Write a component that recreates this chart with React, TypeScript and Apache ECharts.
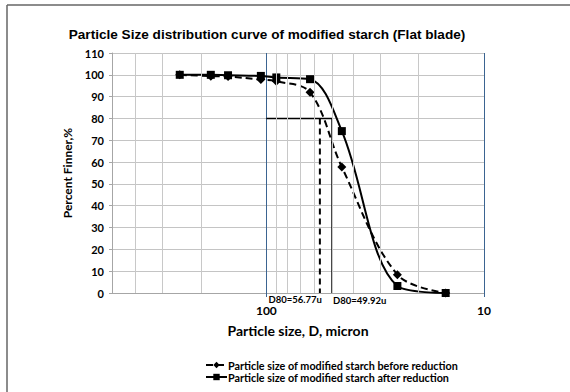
import React, { useEffect, useRef } from "react";
import * as echarts from "echarts";

const particleSizes = [250, 180, 150, 106, 90, 63, 45, 25, 15];
const beforeReduction = [100, 99.4, 99.2, 97.8, 97.0, 92.0, 57.7, 8.4, 0];
const afterReduction = [100, 100, 99.8, 99.5, 98.8, 98.0, 74.2, 3.2, 0];
const minorGridSizes = [20, 30, 40, 50, 60, 70, 80, 90, 200, 300, 400];
const xTickLabels = [10, 100];
const d80Before = 56.77;
const d80After = 49.92;
const d80Level = 80;
const xMin = 10;
const xMax = 512;

const seriesBeforeName = "Particle size of modified starch before reduction";
const seriesAfterName = "Particle size of modified starch after reduction";

const CAL = "Lato, 'Open Sans', sans-serif";

export default function App() {
  const ref = useRef<HTMLDivElement>(null);
  useEffect(() => {
    document.body.style.margin = "0";
    const chart = echarts.init(ref.current!, undefined, { renderer: "svg" });
    const beforeData = particleSizes.map((s, i) => [s, beforeReduction[i]]);
    const afterData = particleSizes.map((s, i) => [s, afterReduction[i]]);
    const option: any = {
      animation: false,
      backgroundColor: "#ffffff",
      title: {
        text: "Particle Size distribution curve of modified starch (Flat blade)",
        left: 262,
        top: 22,
        textAlign: "center",
        textStyle: {
          fontFamily: "'Liberation Sans', Arial, sans-serif",
          fontWeight: "bold",
          fontSize: 13.6,
          color: "#000",
        },
      },
      grid: { left: 112, right: 86, top: 53, bottom: 99, containLabel: false },
      legend: {
        orient: "vertical",
        left: 200,
        top: 354,
        itemGap: 0,
        itemWidth: 21,
        itemHeight: 8,
        data: [seriesBeforeName, seriesAfterName],
        textStyle: {
          fontFamily: CAL,
          fontWeight: "bold",
          fontSize: 10.8,
          lineHeight: 12,
          color: "#000",
          padding: [0, 0, 0, -4],
        },
      },
      xAxis: {
        type: "log",
        logBase: 10,
        inverse: true,
        min: xMin,
        max: xMax,
        name: "Particle size, D, micron",
        nameLocation: "middle",
        nameGap: 30,
        nameTextStyle: { fontFamily: CAL, fontWeight: "bold", fontSize: 14, color: "#000" },
        axisLine: { show: true, lineStyle: { color: "#a6a6a6", width: 1 } },
        axisTick: { show: true, length: 4, lineStyle: { color: "#3b6491" } },
        axisLabel: {
          margin: 11,
          showMinLabel: true,
          showMaxLabel: false,
          fontFamily: CAL,
          fontWeight: "bold",
          fontSize: 12,
          color: "#000",
          formatter: (v: number) => {
            const r = Math.round(v);
            return xTickLabels.indexOf(r) >= 0 ? String(r) : "";
          },
        },
        splitLine: { show: true, lineStyle: { color: "#3b6491", width: 1 } },
      },
      yAxis: {
        type: "value",
        min: 0,
        max: 110,
        interval: 10,
        name: "Percent Finner,%",
        nameLocation: "middle",
        nameRotate: 90,
        nameGap: 27,
        nameTextStyle: { fontFamily: CAL, fontWeight: "bold", fontSize: 12, color: "#000" },
        axisLine: { show: true, lineStyle: { color: "#a6a6a6" } },
        axisTick: { show: true, length: 3, lineStyle: { color: "#a6a6a6" } },
        axisLabel: { margin: 8, fontFamily: CAL, fontWeight: "bold", fontSize: 11, color: "#000" },
        splitLine: { show: true, lineStyle: { color: "#c4c4c4", width: 1 } },
      },
      series: [
        {
          name: "minor",
          type: "line",
          data: [],
          silent: true,
          markLine: {
            silent: true,
            symbol: ["none", "none"],
            label: { show: false },
            lineStyle: { color: "#c8c8c8", width: 1, type: "solid" },
            data: minorGridSizes.map((v) => ({ xAxis: v })),
          },
        },
        {
          name: "d80after",
          type: "line",
          data: [
            [100, d80Level],
            [d80After, d80Level],
            [d80After, 0],
          ],
          symbol: "none",
          lineStyle: { color: "#000", width: 1.5 },
          silent: true,
        },
        {
          name: "d80before",
          type: "line",
          data: [
            [d80Before, d80Level],
            [d80Before, 0],
          ],
          symbol: "none",
          lineStyle: { color: "#000", width: 2, type: [6, 4] },
          silent: true,
        },
        {
          name: seriesBeforeName,
          type: "line",
          data: beforeData,
          smooth: 0.35,
          symbol: "diamond",
          symbolSize: 9,
          itemStyle: { color: "#000" },
          lineStyle: { color: "#000", width: 2, type: [7, 4] },
          z: 3,
        },
        {
          name: seriesAfterName,
          type: "line",
          data: afterData,
          smooth: 0.35,
          symbol: "rect",
          symbolSize: 8,
          itemStyle: { color: "#000" },
          lineStyle: { color: "#000", width: 2 },
          z: 4,
        },
      ],
    };
    chart.setOption(option);
    const pB = chart.convertToPixel({ gridIndex: 0 }, [d80Before, 0]) as number[];
    const pA = chart.convertToPixel({ gridIndex: 0 }, [d80After, 0]) as number[];
    chart.setOption({
      graphic: [
        {
          type: "line",
          shape: { x1: 7, y1: 5, x2: 570, y2: 5 },
          style: { stroke: "#666", lineWidth: 1.5 },
        },
        {
          type: "line",
          shape: { x1: 7, y1: 5, x2: 7, y2: 392 },
          style: { stroke: "#666", lineWidth: 1.5 },
        },
        {
          type: "text",
          x: pB[0] + 2,
          y: pB[1] + 6,
          style: {
            text: "D80=" + d80Before + "u",
            textAlign: "right",
            textVerticalAlign: "middle",
            fontFamily: CAL,
            fontWeight: "bold",
            fontSize: 9.5,
            fill: "#000",
          },
        },
        {
          type: "text",
          x: pA[0] + 1,
          y: pA[1] + 7,
          style: {
            text: "D80=" + d80After + "u",
            textAlign: "left",
            textVerticalAlign: "middle",
            fontFamily: CAL,
            fontWeight: "bold",
            fontSize: 9.5,
            fill: "#000",
          },
        },
      ],
    });
    return () => chart.dispose();
  }, []);
  return <div ref={ref} style={{ position: "fixed", left: 0, top: 0, width: 570, height: 392 }} />;
}
